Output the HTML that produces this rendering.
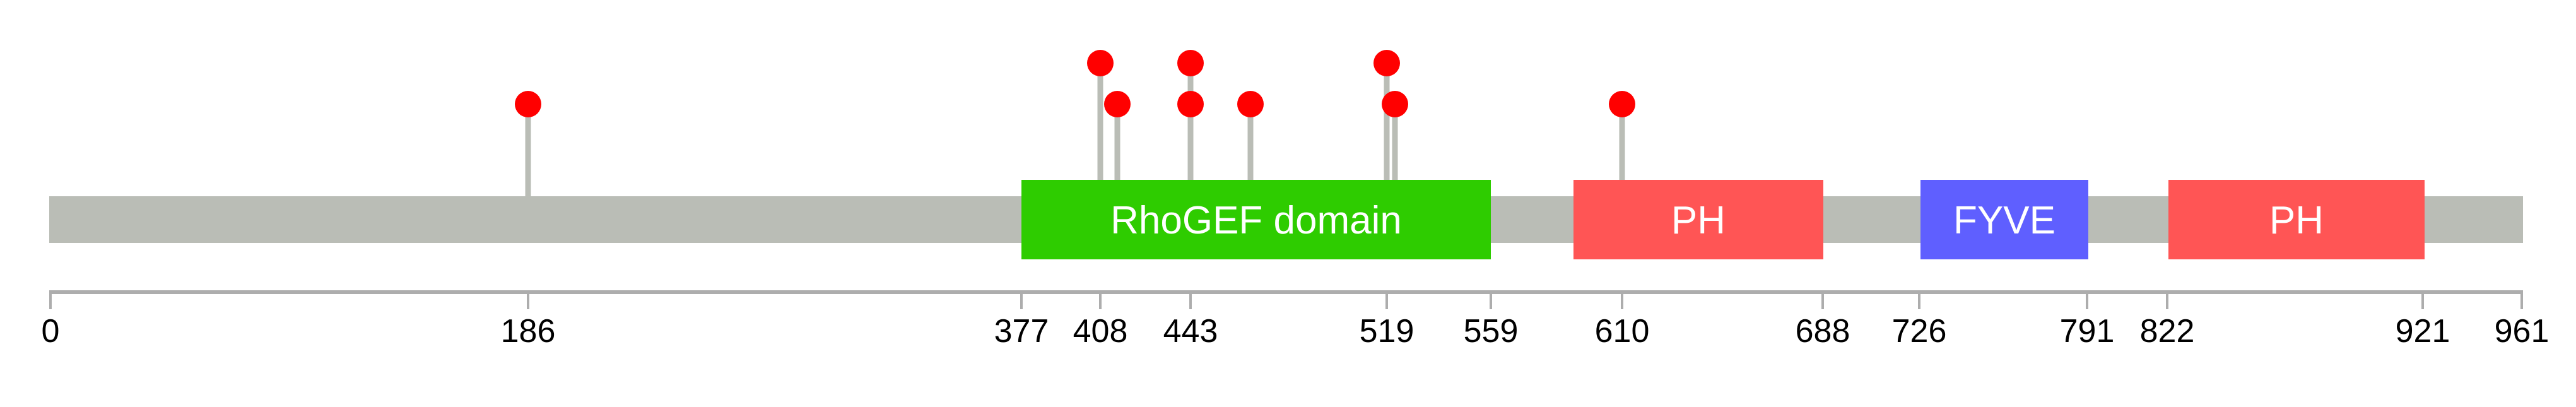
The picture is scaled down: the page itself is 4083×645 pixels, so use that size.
<!DOCTYPE html>
<html><head><meta charset="utf-8"><style>html,body{margin:0;padding:0;background:#fff}svg{display:block}</style></head>
<body>
<svg width="4083" height="645" viewBox="0 0 4083 645" xmlns="http://www.w3.org/2000/svg" font-family="Liberation Sans, Arial, sans-serif">
<rect x="78" y="311" width="3921" height="74" fill="#babdb6"/>
<g stroke="#babdb6" stroke-width="9">
<line x1="837" y1="165" x2="837" y2="311"/>
<line x1="1744" y1="100" x2="1744" y2="285"/>
<line x1="1771" y1="165" x2="1771" y2="285"/>
<line x1="1887" y1="100" x2="1887" y2="285"/>
<line x1="1982" y1="165" x2="1982" y2="285"/>
<line x1="2198" y1="100" x2="2198" y2="285"/>
<line x1="2211" y1="165" x2="2211" y2="285"/>
<line x1="2571" y1="165" x2="2571" y2="285"/>
</g>
<g fill="#ff0000">
<circle cx="837" cy="165" r="21"/>
<circle cx="1744" cy="100" r="21"/>
<circle cx="1771" cy="165" r="21"/>
<circle cx="1887" cy="100" r="21"/>
<circle cx="1887" cy="165" r="21"/>
<circle cx="1982" cy="165" r="21"/>
<circle cx="2198" cy="100" r="21"/>
<circle cx="2211" cy="165" r="21"/>
<circle cx="2571" cy="165" r="21"/>
</g>
<rect x="1619" y="285" width="744" height="126" fill="#2ecc00"/>
<rect x="2494" y="285" width="396" height="126" fill="#ff5555"/>
<rect x="3044" y="285" width="266" height="126" fill="#5f5fff"/>
<rect x="3437" y="285" width="406" height="126" fill="#ff5555"/>
<g fill="#fff" font-size="62" text-anchor="middle">
<text x="1991" y="370">RhoGEF domain</text>
<text x="2692" y="370">PH</text>
<text x="3177" y="370">FYVE</text>
<text x="3640" y="370">PH</text>
</g>
<rect x="78" y="460" width="3921" height="6" fill="#adadad"/>
<g stroke="#adadad" stroke-width="4">
<line x1="80" y1="462" x2="80" y2="490"/>
<line x1="837" y1="462" x2="837" y2="490"/>
<line x1="1619" y1="462" x2="1619" y2="490"/>
<line x1="1744" y1="462" x2="1744" y2="490"/>
<line x1="1887" y1="462" x2="1887" y2="490"/>
<line x1="2198" y1="462" x2="2198" y2="490"/>
<line x1="2363" y1="462" x2="2363" y2="490"/>
<line x1="2571" y1="462" x2="2571" y2="490"/>
<line x1="2889" y1="462" x2="2889" y2="490"/>
<line x1="3042" y1="462" x2="3042" y2="490"/>
<line x1="3308" y1="462" x2="3308" y2="490"/>
<line x1="3435" y1="462" x2="3435" y2="490"/>
<line x1="3840" y1="462" x2="3840" y2="490"/>
<line x1="3997" y1="462" x2="3997" y2="490"/>
</g>
<g fill="#000" font-size="52" text-anchor="middle">
<text x="80" y="542">0</text>
<text x="837" y="542">186</text>
<text x="1619" y="542">377</text>
<text x="1744" y="542">408</text>
<text x="1887" y="542">443</text>
<text x="2198" y="542">519</text>
<text x="2363" y="542">559</text>
<text x="2571" y="542">610</text>
<text x="2889" y="542">688</text>
<text x="3042" y="542">726</text>
<text x="3308" y="542">791</text>
<text x="3435" y="542">822</text>
<text x="3840" y="542">921</text>
<text x="3997" y="542">961</text>
</g>
</svg>
</body></html>
